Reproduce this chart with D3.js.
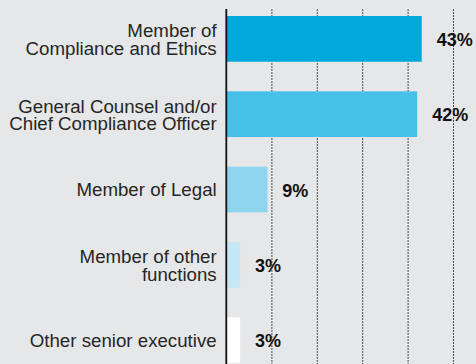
<!DOCTYPE html>
<html>
<head>
<meta charset="utf-8">
<script src="https://cdn.jsdelivr.net/npm/d3@7"></script>
<style>
  html, body { margin: 0; padding: 0; background: #e6e7e8; }
  svg { display: block; }
</style>
</head>
<body>
<svg id="chart" width="476" height="364"></svg>
<script>
// Role responsible, share of respondents (%)
const categories = [
  ["Member of", "Compliance and Ethics"],
  ["General Counsel and/or", "Chief Compliance Officer"],
  ["Member of Legal"],
  ["Member of other", "functions"],
  ["Other senior executive"]
];
const values = [43, 42, 9, 3, 3];
const barColors = ["#00a8dc", "#47c0e7", "#8ed5f0", "#c5e8f4", "#ffffff"];
const gridTicks = [10, 20, 30, 40, 50];

const W = 476, H = 364;
const svg = d3.select("#chart");

svg.append("rect").attr("width", W).attr("height", H).attr("fill", "#e6e7e8");

const x = d3.scaleLinear().domain([0, 50]).range([226.5, 453.5]);
const y = d3.scaleBand()
  .domain(d3.range(values.length))
  .range([0, 379])
  .paddingInner(0.393)
  .paddingOuter(0.2125);

const gridTop = 9;

// dashed vertical gridlines
svg.append("g")
  .selectAll("line")
  .data(gridTicks)
  .join("line")
  .attr("x1", d => x(d)).attr("x2", d => x(d))
  .attr("y1", gridTop).attr("y2", H)
  .attr("stroke", "#4a4a4a")
  .attr("stroke-width", 1)
  .attr("stroke-dasharray", "2,1");

// bars
svg.append("g")
  .selectAll("rect")
  .data(values)
  .join("rect")
  .attr("x", x(0))
  .attr("y", (d, i) => y(i))
  .attr("width", d => x(d) - x(0))
  .attr("height", y.bandwidth())
  .attr("fill", (d, i) => barColors[i]);

// value axis baseline
svg.append("line")
  .attr("x1", x(0) - 0.2).attr("x2", x(0) - 0.2)
  .attr("y1", gridTop).attr("y2", H)
  .attr("stroke", "#111")
  .attr("stroke-width", 1.8);

// value labels
svg.append("g")
  .selectAll("text")
  .data(values)
  .join("text")
  .attr("x", d => x(d) + 15)
  .attr("y", (d, i) => y(i) + y.bandwidth() / 2 + 7)
  .attr("font-family", "'Liberation Sans', Arial, sans-serif")
  .attr("font-weight", "bold")
  .attr("font-size", 18)
  .attr("fill", "#111")
  .text(d => d + "%");

// category labels
const catG = svg.append("g")
  .attr("font-family", "'Liberation Sans', Arial, sans-serif")
  .attr("font-size", 18.7)
  .attr("fill", "#262626")
  .attr("text-anchor", "end");

categories.forEach((lines, i) => {
  const cy = y(i) + y.bandwidth() / 2;
  const t = catG.append("text").attr("x", 216.7);
  if (lines.length === 1) {
    t.attr("y", cy + 6.5).text(lines[0]);
  } else {
    t.append("tspan").attr("x", 216.7).attr("y", cy - 1.5).text(lines[0]);
    t.append("tspan").attr("x", 216.7).attr("y", cy + 16.3).text(lines[1]);
  }
});
</script>
</body>
</html>
